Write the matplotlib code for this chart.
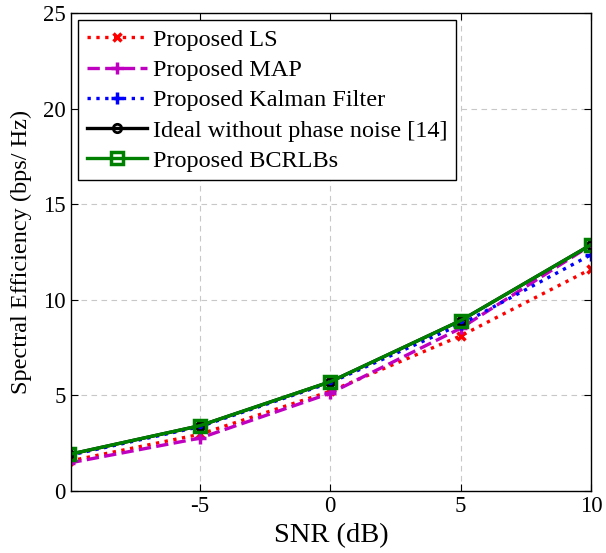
import matplotlib.pyplot as plt

plt.rcParams['font.family'] = ['Liberation Serif', 'DejaVu Serif']
plt.rcParams['axes.unicode_minus'] = False

snr = [-10, -5, 0, 5, 10]
ls_est = [1.55, 2.95, 5.2, 8.1, 11.6]
map_est = [1.45, 2.75, 5.1, 8.5, 12.85]
kalman = [1.85, 3.35, 5.65, 8.7, 12.35]
ideal = [1.9, 3.4, 5.7, 8.9, 12.87]
bcrlb = [1.9, 3.4, 5.7, 8.9, 12.87]

fig = plt.figure(figsize=(6.06, 5.53), dpi=100)
ax = fig.add_axes([0.1167, 0.1127, 0.8586, 0.8638])

lw = 2.4
ax.plot(snr, ls_est, color='red', linestyle=':', linewidth=lw, marker='x',
        markersize=6, markeredgewidth=2.5, label='Proposed LS')
ax.plot(snr, map_est, color='#c000c0', linestyle='--', linewidth=lw, marker='+',
        markersize=9, markeredgewidth=2.5, label='Proposed MAP')
ax.plot(snr, kalman, color='blue', linestyle=':', linewidth=lw, marker='+',
        markersize=9, markeredgewidth=2.5, label='Proposed Kalman Filter')
ax.plot(snr, ideal, color='black', linestyle='-', linewidth=lw, marker='o',
        markersize=6, markerfacecolor='none', markeredgewidth=2,
        label='Ideal without phase noise [14]')
ax.plot(snr, bcrlb, color='green', linestyle='-', linewidth=lw, marker='s',
        markersize=9, markerfacecolor='none', markeredgewidth=2.5,
        label='Proposed BCRLBs')

ax.set_xlim(-9.95, 10)
ax.set_ylim(0, 25)
ax.set_xticks([-5, 0, 5, 10])
ax.set_yticks([0, 5, 10, 15, 20, 25])
ax.grid(True, color='#c8c8c8', linestyle=(0, (5, 4)), linewidth=0.8)
ax.tick_params(direction='in', top=True, right=True, length=5, labelsize=16.5)
for s in ax.spines.values():
    s.set_linewidth(1.0)

ax.set_xlabel('SNR (dB)', fontsize=20.5, labelpad=5)
ax.set_ylabel('Spectral Efficiency (bps/ Hz)', fontsize=17.5, labelpad=8)

leg = ax.legend(loc='upper left', numpoints=1, handlelength=2.5,
                fancybox=False, framealpha=1, edgecolor='black',
                fontsize=17.5, borderaxespad=0.3, labelspacing=0.34,
                handletextpad=0.25, borderpad=0.35)
leg.get_frame().set_linewidth(1.0)

fig.savefig('out.png', dpi=100)
